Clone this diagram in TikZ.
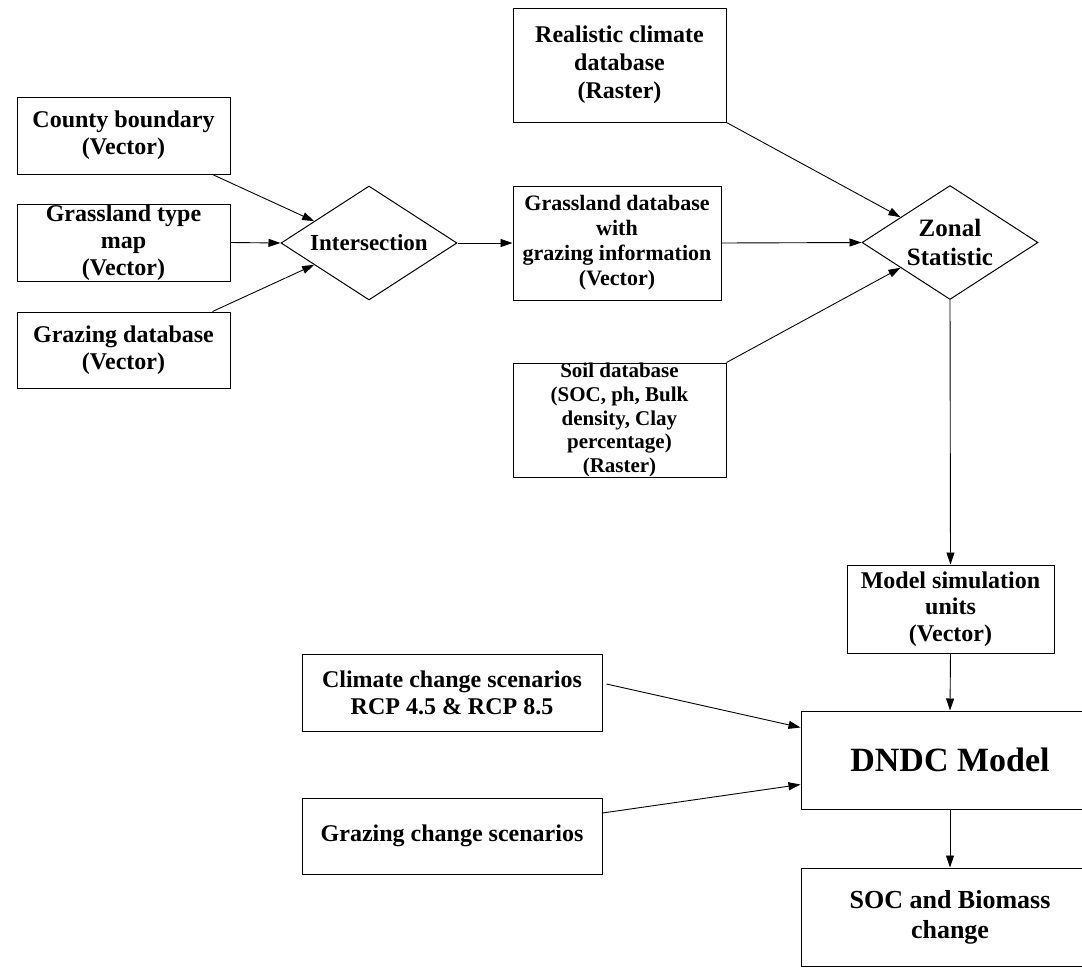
\documentclass[tikz,border=0pt]{standalone}
\usepackage{fontspec}
\setmainfont{Liberation Serif}
\usetikzlibrary{arrows.meta,shapes.geometric,calc}

\begin{document}
\begin{tikzpicture}[x=1pt,y=-1pt,
  box/.style={draw, rectangle, line width=1pt, inner sep=0pt, align=center,
              font=\bfseries\fontsize{24}{27}\selectfont},
  decision/.style={draw, diamond, line width=1pt, inner sep=0pt, aspect=1.54,
              minimum width=176pt, minimum height=114pt, align=center},
  flow/.style={-{Triangle[length=12pt,width=8pt]}, line width=0.9pt}]
  \clip (0,0) rectangle (1082,967);

  % input layers
  \node[box, minimum width=213pt, minimum height=77pt] (cb) at (123.5,135.5) {County boundary\\(Vector)};
  \node[box, minimum width=213pt, minimum height=77pt] (gt) at (123.5,242.5) {Grassland type\\map\\(Vector)};
  \node[box, minimum width=213pt, minimum height=76pt] (gd) at (123.5,350) {Grazing database\\(Vector)};
  \node[decision, font=\bfseries\fontsize{23}{27}\selectfont] (int) at (369,243) {Intersection};

  \node[box, minimum width=213pt, minimum height=114pt, font=\bfseries\fontsize{24}{28}\selectfont]
    (rc) at (619.5,65) {Realistic climate\\database\\(Raster)};
  \node[box, minimum width=208pt, minimum height=114pt, font=\bfseries\fontsize{22}{25}\selectfont]
    (gdb) at (617,243) {Grassland database\\with\\grazing information\\(Vector)};
  \node[box, minimum width=213pt, minimum height=114pt, font=\bfseries\fontsize{21}{23.7}\selectfont]
    (soil) at (619.5,420) {Soil database\\(SOC, ph, Bulk\\density, Clay\\percentage)\\(Raster)};
  \node[decision, font=\bfseries\fontsize{25}{29}\selectfont] (zs) at (950,242.5) {Zonal\\Statistic};

  % model part
  \node[box, minimum width=207pt, minimum height=88pt, font=\bfseries\fontsize{24}{26.7}\selectfont]
    (ms) at (950.5,609) {Model simulation\\units\\(Vector)};
  \node[box, minimum width=300pt, minimum height=77pt] (cc) at (452,692.5) {Climate change scenarios\\RCP 4.5 \& RCP 8.5};
  \node[box, minimum width=300pt, minimum height=76pt] (gc) at (452,836) {Grazing change scenarios};
  \node[box, minimum width=298pt, minimum height=98pt, font=\bfseries\fontsize{34}{38}\selectfont]
    (dndc) at (950,760) {DNDC Model};
  \node[box, minimum width=298pt, minimum height=98pt, font=\bfseries\fontsize{26}{30}\selectfont]
    (soc) at (950,917) {SOC and Biomass\\change};

  \draw[flow] ($(cb.south east)+(-18,0)$) -- ($(int.west)!0.38!(int.north)$);
  \draw[flow] (gt.east) -- (int.west);
  \draw[flow] ($(gd.north east)+(-18,0)$) -- ($(int.west)!0.38!(int.south)$);
  \draw[flow] (int.east) -- (gdb.west);
  \draw[flow] (gdb.east) -- (zs.west);
  \draw[flow] (rc.south east) -- ($(zs.west)!0.44!(zs.north)$);
  \draw[flow] (soil.north east) -- ($(zs.west)!0.44!(zs.south)$);
  \draw[flow] (zs.south) -- (ms.north);
  \draw[flow] (ms.south) -- (dndc.north);
  \draw[flow] ($(cc.east)+(4,-8.5)$) -- ($(dndc.north west)+(0,17)$);
  \draw[flow] ($(gc.east)+(0,-23)$) -- ($(dndc.north west)+(0,74)$);
  \draw[flow] (dndc.south) -- (soc.north);
\end{tikzpicture}
\end{document}
